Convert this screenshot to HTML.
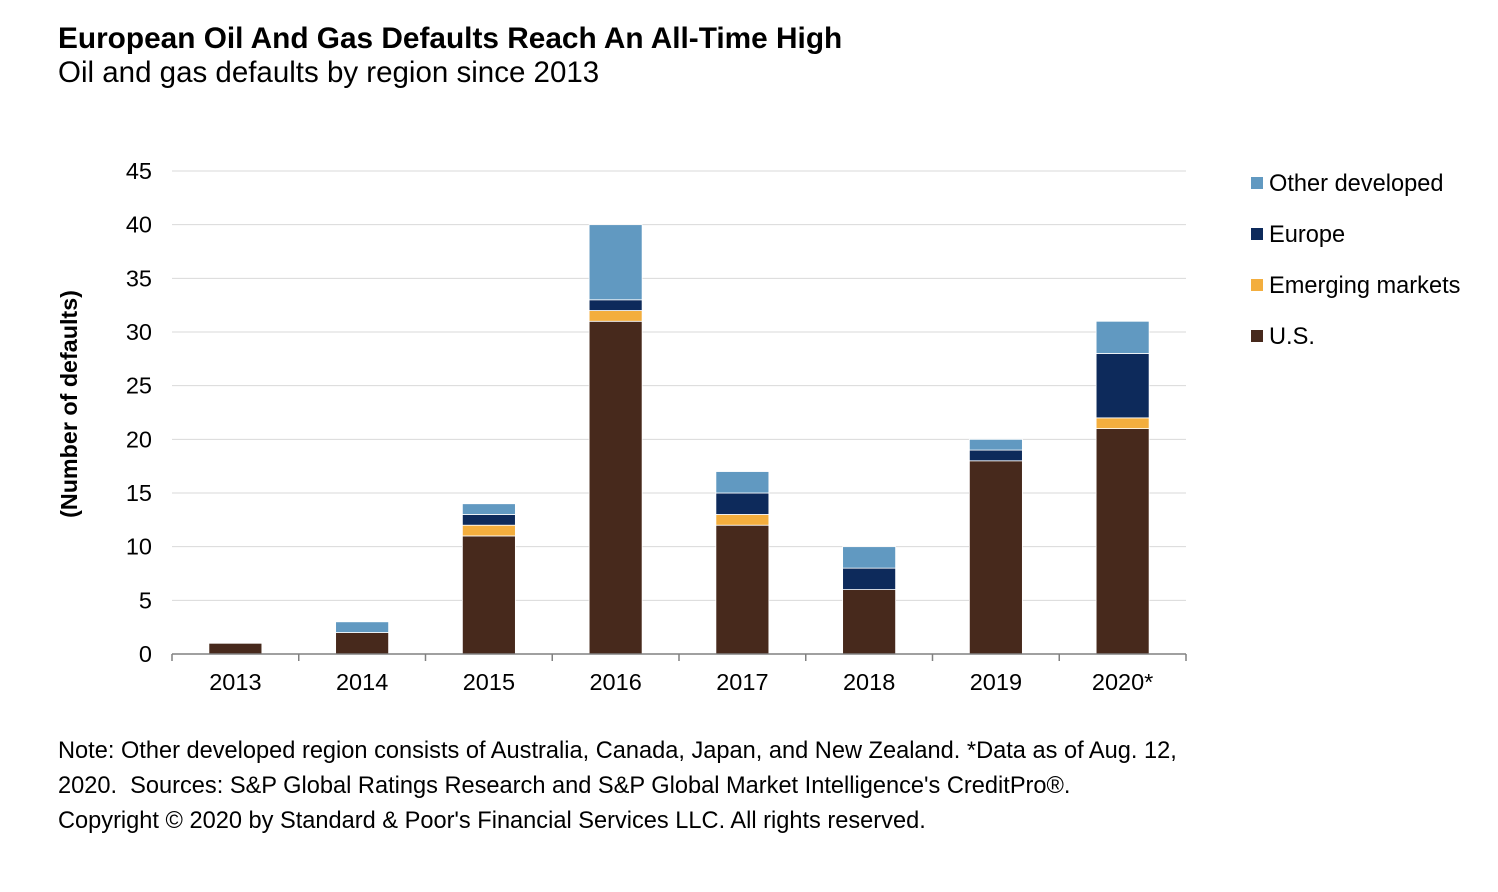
<!DOCTYPE html>
<html><head><meta charset="utf-8"><style>
body{margin:0;background:#fff;font-family:"Liberation Sans",Arial,sans-serif;}
#wrap{position:relative;width:1498px;height:892px;overflow:hidden;}
.t{position:absolute;white-space:nowrap;color:#000;}
</style></head><body>
<div id="wrap">
<div class="t" style="left:58px;top:22px;font-size:29.8px;font-weight:bold;">European Oil And Gas Defaults Reach An All-Time High</div>
<div class="t" style="left:58px;top:56px;font-size:29.5px;">Oil and gas defaults by region since 2013</div>
<svg id="chart" width="1498" height="892" style="position:absolute;left:0;top:0;"></svg>
<div class="t" style="left:58px;top:734px;font-size:23.6px;line-height:35px;">Note: Other developed region consists of Australia, Canada, Japan, and New Zealand. *Data as of Aug. 12,<br>2020.&nbsp; Sources: S&amp;P Global Ratings Research and S&amp;P Global Market Intelligence's CreditPro®.<br><span style="line-height:32px">Copyright © 2020 by Standard &amp; Poor's Financial Services LLC. All rights reserved.</span></div>
</div>
<script>
const categories=["2013","2014","2015","2016","2017","2018","2019","2020*"];
const usValues=[1,2,11,31,12,6,18,21];
const emergingValues=[0,0,1,1,1,0,0,1];
const europeValues=[0,0,1,1,2,2,1,6];
const otherValues=[0,1,1,7,2,2,1,3];
const yTicks=[0,5,10,15,20,25,30,35,40,45];
const seriesNames=["U.S.","Emerging markets","Europe","Other developed"];
const colors=["#47291c","#f3ae3e","#0d2a5b","#6199c1"];
const NS="http://www.w3.org/2000/svg";
const svg=document.getElementById('chart');
const x0=172,x1=1186,y0=654,yTop=171,yMax=45;
const band=(x1-x0)/categories.length,bw=53;
const FF='Liberation Sans, Arial, sans-serif';
function y(v){return y0-(v/yMax)*(y0-yTop);}
function xc(i){return x0+band*(i+0.5);}
function mk(tag,attrs){const e=document.createElementNS(NS,tag);for(const k in attrs)e.setAttribute(k,attrs[k]);svg.appendChild(e);return e;}
yTicks.forEach(t=>{
  if(t>0){const g=mk('line',{x1:x0,x2:x1,y1:y(t),y2:y(t),stroke:'#d9d9d9','stroke-width':1});
  
  }
  const l=mk('text',{x:152,y:y(t)+8,'text-anchor':'end','font-size':23.5,'font-family':FF});
  l.textContent=t;
  
  
});
const series=[usValues,emergingValues,europeValues,otherValues];
categories.forEach((c,i)=>{
  let acc=0;
  series.forEach((s,k)=>{
    const v=s[i];if(v<=0)return;
    const r=mk('rect',{x:xc(i)-bw/2,y:y(acc+v),width:bw,height:y(acc)-y(acc+v),fill:colors[k],stroke:'#fff','stroke-width':0.8});
    
    
    acc+=v;
  });
  const l=mk('text',{x:xc(i),y:690,'text-anchor':'middle','font-size':23.5,'font-family':FF});
  l.textContent=c;
  
  
});
const ax=mk('line',{x1:x0,x2:x1,y1:y0,y2:y0,stroke:'#808080','stroke-width':1.5});


for(let i=0;i<=categories.length;i++){
  const tk=mk('line',{x1:x0+band*i,x2:x0+band*i,y1:y0,y2:y0+7,stroke:'#808080','stroke-width':1.5});
  
  
}
const yt=mk('text',{x:0,y:0,transform:'translate(77,404) rotate(-90)','text-anchor':'middle','font-size':23.3,'font-weight':'bold','font-family':FF});
yt.textContent='(Number of defaults)';


const legOrder=[3,2,1,0];
legOrder.forEach((k,j)=>{
  const yy=183+j*51;
  const sq=mk('rect',{x:1251,y:yy-6,width:12,height:12,fill:colors[k]});
  
  
  const t=mk('text',{x:1269,y:yy+8,'font-size':23.6,'font-family':FF});
  t.textContent=seriesNames[k];
  
  
});
</script>
</body></html>
